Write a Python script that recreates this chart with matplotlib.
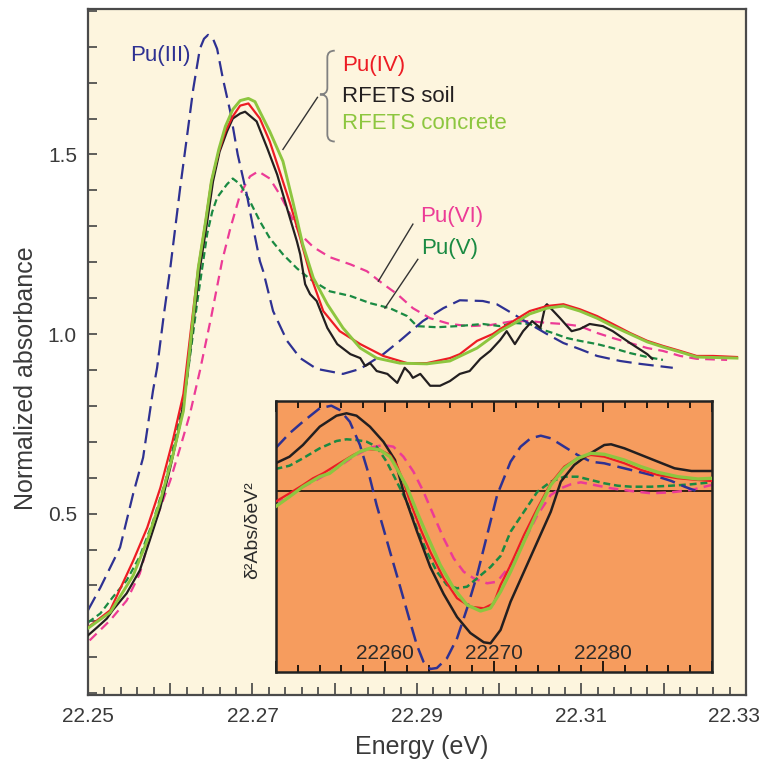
import numpy as np
import matplotlib
matplotlib.use("Agg")
import matplotlib.pyplot as plt
from matplotlib.ticker import MultipleLocator, FixedLocator
from matplotlib.path import Path
from matplotlib.patches import PathPatch
import matplotlib.transforms as mtransforms

plt.rcParams['font.family'] = ['Liberation Sans', 'DejaVu Sans']
plt.rcParams['lines.scale_dashes'] = False

# ---------------- main panel data (energy keV, normalized absorbance) -------------
pu3_E = [22.2500, 22.2515, 22.2539, 22.2555, 22.2567, 22.2579, 22.2584, 22.2592, 22.2600,
         22.2612, 22.2620, 22.2628, 22.2636, 22.2641, 22.2646, 22.2652, 22.2657, 22.2664,
         22.2673, 22.2682, 22.2693, 22.2701, 22.2709, 22.2713, 22.2725, 22.2742, 22.2758,
         22.2778, 22.2810, 22.2831, 22.2859, 22.2879, 22.2907, 22.2932, 22.2952, 22.2980,
         22.2997, 22.3017, 22.3037, 22.3058, 22.3078, 22.3098, 22.3119, 22.3147, 22.3171,
         22.3211]
pu3_A = [0.231, 0.294, 0.406, 0.556, 0.656, 0.842, 0.906, 1.050, 1.183,
         1.406, 1.544, 1.683, 1.794, 1.822, 1.833, 1.822, 1.794, 1.711,
         1.619, 1.500, 1.389, 1.294, 1.203, 1.175, 1.064, 0.981, 0.933,
         0.903, 0.889, 0.903, 0.944, 0.981, 1.036, 1.072, 1.094, 1.092,
         1.083, 1.056, 1.028, 1.000, 0.975, 0.958, 0.939, 0.925, 0.917,
         0.906]

soil_E = [22.2500, 22.2511, 22.2523, 22.2530, 22.2547, 22.2563, 22.2575, 22.2588, 22.2600,
          22.2612, 22.2620, 22.2628, 22.2636, 22.2645, 22.2652, 22.2660, 22.2669, 22.2676,
          22.2685, 22.2691, 22.2705, 22.2718, 22.2730, 22.2742, 22.2754, 22.2758, 22.2764,
          22.2770, 22.2778, 22.2791, 22.2803, 22.2819, 22.2831, 22.2837, 22.2843, 22.2851,
          22.2864, 22.2876, 22.2885, 22.2891, 22.2895, 22.2904, 22.2916, 22.2928, 22.2940,
          22.2952, 22.2964, 22.2977, 22.2989, 22.3001, 22.3009, 22.3019, 22.3029, 22.3040,
          22.3050, 22.3056, 22.3058, 22.3074, 22.3088, 22.3098, 22.3110, 22.3126, 22.3138,
          22.3159, 22.3180, 22.3186]
soil_A = [0.161, 0.183, 0.208, 0.231, 0.278, 0.342, 0.425, 0.517, 0.628,
          0.750, 0.869, 1.030, 1.183, 1.314, 1.425, 1.508, 1.564, 1.600,
          1.614, 1.619, 1.592, 1.517, 1.444, 1.350, 1.258, 1.222, 1.139,
          1.111, 1.092, 1.017, 0.972, 0.944, 0.933, 0.911, 0.919, 0.897,
          0.889, 0.864, 0.906, 0.892, 0.878, 0.889, 0.856, 0.856, 0.869,
          0.889, 0.897, 0.931, 0.953, 0.983, 1.008, 0.972, 1.008, 1.036,
          1.017, 1.078, 1.083, 1.044, 1.008, 1.014, 1.028, 1.022, 1.008,
          0.975, 0.944, 0.931]

pu4_E = [22.2500, 22.2527, 22.2555, 22.2572, 22.2588, 22.2603, 22.2616, 22.2625, 22.2634,
         22.2643, 22.2650, 22.2659, 22.2667, 22.2676, 22.2685, 22.2695, 22.2709, 22.2721,
         22.2733, 22.2746, 22.2758, 22.2770, 22.2786, 22.2806, 22.2831, 22.2859, 22.2888,
         22.2912, 22.2940, 22.2952, 22.2973, 22.2992, 22.3001, 22.3017, 22.3037, 22.3058,
         22.3078, 22.3098, 22.3119, 22.3138, 22.3159, 22.3180, 22.3199, 22.3220, 22.3240,
         22.3260, 22.3289]
pu4_A = [0.183, 0.231, 0.369, 0.461, 0.572, 0.703, 0.833, 1.010, 1.183,
         1.314, 1.425, 1.508, 1.564, 1.606, 1.636, 1.642, 1.600, 1.536,
         1.453, 1.361, 1.267, 1.167, 1.064, 1.008, 0.972, 0.939, 0.919,
         0.919, 0.933, 0.944, 0.981, 1.000, 1.014, 1.036, 1.064, 1.078,
         1.083, 1.069, 1.050, 1.028, 1.003, 0.981, 0.967, 0.953, 0.939,
         0.939, 0.936]

conc_E = [22.2500, 22.2527, 22.2555, 22.2572, 22.2588, 22.2603, 22.2616, 22.2625, 22.2634,
          22.2643, 22.2650, 22.2659, 22.2667, 22.2676, 22.2685, 22.2695, 22.2703, 22.2709,
          22.2721, 22.2737, 22.2749, 22.2761, 22.2774, 22.2791, 22.2810, 22.2831, 22.2851,
          22.2879, 22.2912, 22.2940, 22.2973, 22.3001, 22.3017, 22.3037, 22.3058, 22.3078,
          22.3098, 22.3119, 22.3138, 22.3159, 22.3180, 22.3199, 22.3220, 22.3240, 22.3289]
conc_A = [0.181, 0.225, 0.328, 0.425, 0.536, 0.661, 0.786, 0.985, 1.183,
          1.314, 1.425, 1.514, 1.578, 1.625, 1.650, 1.656, 1.647, 1.619,
          1.564, 1.481, 1.369, 1.250, 1.156, 1.083, 1.017, 0.961, 0.933,
          0.919, 0.917, 0.925, 0.961, 1.008, 1.028, 1.056, 1.072, 1.078,
          1.064, 1.044, 1.022, 1.000, 0.978, 0.964, 0.950, 0.936, 0.933]

pu6_E = [22.2502, 22.2527, 22.2547, 22.2563, 22.2575, 22.2588, 22.2600, 22.2612, 22.2624,
         22.2636, 22.2650, 22.2663, 22.2673, 22.2685, 22.2697, 22.2707, 22.2721, 22.2733,
         22.2746, 22.2758, 22.2774, 22.2794, 22.2819, 22.2839, 22.2859, 22.2876, 22.2895,
         22.2916, 22.2940, 22.2964, 22.2989, 22.3017, 22.3037, 22.3058, 22.3078, 22.3098,
         22.3119, 22.3138, 22.3159, 22.3180, 22.3199, 22.3220, 22.3240, 22.3277]
pu6_A = [0.147, 0.203, 0.258, 0.333, 0.433, 0.517, 0.592, 0.683, 0.778,
         0.897, 1.050, 1.203, 1.294, 1.389, 1.439, 1.453, 1.433, 1.389,
         1.333, 1.278, 1.242, 1.214, 1.194, 1.175, 1.139, 1.111, 1.072,
         1.044, 1.028, 1.022, 1.025, 1.036, 1.036, 1.031, 1.028, 1.022,
         1.003, 0.989, 0.975, 0.961, 0.953, 0.939, 0.931, 0.928]

pu5_E = [22.2500, 22.2515, 22.2530, 22.2547, 22.2563, 22.2579, 22.2594, 22.2608, 22.2620,
         22.2633, 22.2645, 22.2651, 22.2657, 22.2669, 22.2676, 22.2685, 22.2697, 22.2709,
         22.2721, 22.2737, 22.2754, 22.2770, 22.2794, 22.2819, 22.2843, 22.2867, 22.2888,
         22.2900, 22.2924, 22.2949, 22.2980, 22.3001, 22.3017, 22.3037, 22.3050, 22.3065,
         22.3082, 22.3098, 22.3119, 22.3138, 22.3159, 22.3180, 22.3199]
pu5_A = [0.197, 0.222, 0.267, 0.314, 0.381, 0.478, 0.589, 0.728, 0.869,
         1.092, 1.280, 1.340, 1.380, 1.417, 1.433, 1.417, 1.369, 1.314,
         1.267, 1.222, 1.183, 1.153, 1.119, 1.106, 1.086, 1.072, 1.050,
         1.022, 1.019, 1.022, 1.028, 1.022, 1.031, 1.028, 1.014, 1.003,
         0.989, 0.981, 0.972, 0.961, 0.947, 0.936, 0.928]

# ---------------- inset data (energy eV, second derivative, arb. units) -------------
i_soil_E = [22249.95, 22251.24, 22252.47, 22254.01, 22255.55, 22256.47, 22257.39, 22258.62,
            22259.85, 22260.92, 22261.80, 22262.92, 22264.15, 22265.38, 22266.61, 22267.83,
            22269.06, 22269.68, 22270.60, 22271.52, 22272.75, 22273.98, 22275.21, 22276.13,
            22277.36, 22278.59, 22280.12, 22280.74, 22281.96, 22283.50, 22285.04, 22286.57,
            22288.11, 22289.95]
i_soil_V = [0.277, 0.343, 0.460, 0.643, 0.753, 0.777, 0.753, 0.643,
            0.493, 0.310, -0.050, -0.400, -0.760, -1.030, -1.260, -1.420,
            -1.513, -1.523, -1.390, -1.107, -0.807, -0.507, -0.207, 0.093,
            0.260, 0.360, 0.460, 0.467, 0.427, 0.360, 0.293, 0.227,
            0.200, 0.200]

i_pu4_E = [22249.95, 22251.24, 22252.47, 22253.39, 22254.32, 22255.55, 22257.08, 22258.31,
           22259.54, 22260.46, 22261.08, 22261.69, 22262.30, 22263.23, 22264.15, 22265.38,
           22266.61, 22267.83, 22269.06, 22269.98, 22270.60, 22271.52, 22272.75, 22273.98,
           22275.21, 22276.44, 22277.67, 22278.89, 22280.12, 22281.96, 22283.50, 22285.04,
           22286.87, 22288.72, 22289.95]
i_pu4_V = [-0.107, -0.023, 0.060, 0.127, 0.177, 0.260, 0.360, 0.420,
           0.410, 0.360, 0.260, 0.093, -0.107, -0.373, -0.607, -0.873,
           -1.073, -1.157, -1.173, -1.123, -0.940, -0.740, -0.440, -0.173,
           0.077, 0.243, 0.327, 0.360, 0.343, 0.277, 0.210, 0.160,
           0.127, 0.110, 0.100]

i_conc_E = [22249.95, 22251.24, 22252.47, 22254.01, 22254.93, 22256.47, 22257.70, 22258.62,
            22259.54, 22260.46, 22261.08, 22262.00, 22262.92, 22263.84, 22265.07, 22266.30,
            22267.53, 22268.76, 22269.68, 22270.60, 22271.52, 22272.75, 22273.98, 22275.21,
            22276.44, 22277.67, 22278.89, 22280.12, 22281.96, 22283.50, 22285.04, 22286.87,
            22288.72, 22289.95]
i_conc_V = [-0.157, -0.057, 0.043, 0.143, 0.177, 0.310, 0.393, 0.427,
            0.410, 0.343, 0.227, 0.043, -0.207, -0.440, -0.740, -0.973,
            -1.140, -1.200, -1.170, -1.007, -0.807, -0.507, -0.207, 0.060,
            0.227, 0.327, 0.377, 0.367, 0.310, 0.243, 0.187, 0.143,
            0.120, 0.127]

i_pu3_E = [22249.95, 22251.24, 22252.47, 22254.01, 22255.08, 22255.85, 22256.77, 22257.70,
           22258.62, 22259.23, 22259.85, 22260.46, 22261.08, 22261.69, 22262.30, 22262.92,
           22263.53, 22264.15, 22264.76, 22265.68, 22266.61, 22267.53, 22268.45, 22269.37,
           22270.29, 22271.52, 22272.44, 22273.36, 22274.29, 22275.21, 22276.44, 22277.67,
           22278.89, 22280.12, 22281.35, 22282.58, 22283.81, 22285.04, 22286.27, 22287.49,
           22288.72]
i_pu3_V = [0.427, 0.577, 0.693, 0.827, 0.853, 0.810, 0.693, 0.460,
           0.127, -0.140, -0.373, -0.607, -0.840, -1.073, -1.307, -1.540,
           -1.707, -1.780, -1.770, -1.673, -1.473, -1.173, -0.840, -0.440,
           -0.040, 0.293, 0.443, 0.527, 0.553, 0.527, 0.443, 0.360,
           0.293, 0.277, 0.243, 0.210, 0.177, 0.143, 0.100, 0.043,
           -0.007]

i_pu6_E = [22249.95, 22251.24, 22252.47, 22253.70, 22255.55, 22257.08, 22258.62, 22259.85,
           22260.77, 22261.69, 22262.61, 22263.53, 22264.45, 22265.38, 22266.30, 22267.22,
           22268.14, 22269.37, 22270.29, 22271.52, 22272.75, 22273.98, 22275.21, 22276.13,
           22277.05, 22277.97, 22278.89, 22280.74, 22282.58, 22284.42, 22286.27, 22288.11,
           22289.95]
i_pu6_V = [-0.140, -0.040, 0.043, 0.110, 0.227, 0.343, 0.433, 0.460,
           0.443, 0.343, 0.193, -0.007, -0.240, -0.473, -0.673, -0.807,
           -0.873, -0.923, -0.907, -0.740, -0.507, -0.240, -0.040, 0.027,
           0.067, 0.087, 0.067, 0.027, 0.000, -0.023, -0.013, 0.010,
           0.060]

i_pu5_E = [22249.95, 22251.24, 22252.47, 22254.01, 22255.55, 22256.47, 22257.39, 22258.31,
           22259.23, 22260.15, 22261.08, 22262.00, 22262.92, 22263.84, 22264.76, 22265.68,
           22266.61, 22267.53, 22268.45, 22269.68, 22270.60, 22271.52, 22272.75, 22273.98,
           22275.21, 22276.44, 22277.67, 22278.89, 22280.12, 22281.35, 22282.58, 22284.42,
           22286.27, 22288.11, 22289.95]
i_pu5_V = [0.220, 0.253, 0.327, 0.427, 0.500, 0.517, 0.510, 0.493,
           0.443, 0.293, 0.093, -0.107, -0.373, -0.607, -0.807, -0.940,
           -0.973, -0.957, -0.873, -0.760, -0.650, -0.407, -0.207, -0.007,
           0.093, 0.143, 0.143, 0.110, 0.077, 0.053, 0.043, 0.043,
           0.053, 0.067, 0.087]

# axis ticks / labels
x_major = [22.25, 22.26, 22.27, 22.28, 22.29, 22.30, 22.31, 22.32, 22.33]
x_major_labels = ['22.25', '', '22.27', '', '22.29', '', '22.31', '', '22.33']
y_major = [0.5, 1.0, 1.5]
y_major_labels = ['0.5', '1.0', '1.5']
inset_label_vals = [22260, 22270, 22280]

# colours
C_BLUE = '#2e3192'
C_RED = '#ed1c24'
C_BLACK = '#231f20'
C_LGREEN = '#8dc63f'
C_DGREEN = '#1a8a42'
C_PINK = '#ec3b96'
C_TXT = '#3a3a3a'
BG_MAIN = '#fdf5de'
BG_INSET = '#f69c5e'

fig = plt.figure(figsize=(7.63, 7.61), dpi=100)
fig.patch.set_facecolor('white')

ax = fig.add_axes([88/763, 66/761, 658/763, 686/761])
ax.set_facecolor(BG_MAIN)

lw = 1.6
ax.plot(pu6_E, pu6_A, color=C_PINK, lw=lw, dashes=(7, 4.5), zorder=2)
ax.plot(pu5_E, pu5_A, color=C_DGREEN, lw=lw, dashes=(5, 2.8), zorder=2)
ax.plot(pu3_E, pu3_A, color=C_BLUE, lw=lw, dashes=(11, 5), zorder=2)
ax.plot(soil_E, soil_A, color=C_BLACK, lw=1.6, zorder=3)
ax.plot(pu4_E, pu4_A, color=C_RED, lw=1.6, zorder=3)
ax.plot(conc_E, conc_A, color=C_LGREEN, lw=2.1, zorder=4)

ax.set_xlim(22.25, 22.33)
ax.set_ylim(-0.005, 1.905)
ax.xaxis.set_major_locator(FixedLocator(x_major))
ax.set_xticklabels(x_major_labels)
ax.xaxis.set_minor_locator(MultipleLocator(0.002))
ax.yaxis.set_major_locator(FixedLocator(y_major))
ax.set_yticklabels(y_major_labels)
ax.yaxis.set_minor_locator(MultipleLocator(0.1))

ax.tick_params(axis='x', which='major', direction='in', length=9, width=1.2,
               color='#444444', labelsize=15, labelcolor=C_TXT, pad=9)
ax.tick_params(axis='x', which='minor', direction='in', length=5.5, width=1.2, color='#444444')
ax.tick_params(axis='y', which='both', direction='in', length=6.5, width=1.2,
               color='#444444', labelsize=15, labelcolor=C_TXT, pad=8)
for s in ax.spines.values():
    s.set_color('#4a4a4a')
    s.set_linewidth(1.6)

# the last x label sits at the image edge; nudge it so it stays visible
last_lbl = ax.get_xticklabels()[-1]
last_lbl.set_transform(last_lbl.get_transform() +
                       mtransforms.ScaledTranslation(-12/100, 0, fig.dpi_scale_trans))

fig.text(26/763, 1 - 378/761, 'Normalized absorbance', rotation=90,
         ha='center', va='center', fontsize=18, color=C_TXT)
fig.text(422/763, 1 - 747/761, 'Energy (eV)', ha='center', va='center',
         fontsize=18, color=C_TXT)

# annotations
ax.text(22.2588, 1.775, 'Pu(III)', color=C_BLUE, fontsize=16, ha='center', va='center')
ax.text(22.2809, 1.747, 'Pu(IV)', color=C_RED, fontsize=16, ha='left', va='center')
ax.text(22.2809, 1.661, 'RFETS soil', color=C_BLACK, fontsize=16, ha='left', va='center')
ax.text(22.2809, 1.586, 'RFETS concrete', color=C_LGREEN, fontsize=16, ha='left', va='center')
ax.text(22.2904, 1.328, 'Pu(VI)', color=C_PINK, fontsize=16, ha='left', va='center')
ax.text(22.2905, 1.239, 'Pu(V)', color=C_DGREEN, fontsize=16, ha='left', va='center')

# brace
verts = [(22.2800, 1.789), (22.2791, 1.789), (22.2791, 1.770),
         (22.2791, 1.685),
         (22.2791, 1.667), (22.2782, 1.667),
         (22.2791, 1.667), (22.2791, 1.649),
         (22.2791, 1.556),
         (22.2791, 1.536), (22.2800, 1.536)]
codes = [Path.MOVETO, Path.CURVE3, Path.CURVE3, Path.LINETO, Path.CURVE3, Path.CURVE3,
         Path.CURVE3, Path.CURVE3, Path.LINETO, Path.CURVE3, Path.CURVE3]
ax.add_patch(PathPatch(Path(verts, codes), fill=False, edgecolor='#808080', lw=1.3, zorder=5))
ax.plot([22.2779, 22.2737], [1.659, 1.514], color='#333333', lw=1.0, zorder=5)
ax.plot([22.2895, 22.2853], [1.306, 1.147], color='#333333', lw=1.0, zorder=5)
ax.plot([22.2901, 22.2861], [1.208, 1.072], color='#333333', lw=1.0, zorder=5)

# ---------------- inset ----------------
axi = fig.add_axes([276/763, 89/761, 436/763, 271/761])
axi.set_facecolor(BG_INSET)
axi.axhline(0, color='black', lw=1.1, zorder=1)
ilw = 1.8
axi.plot(i_pu6_E, i_pu6_V, color=C_PINK, lw=ilw, dashes=(7, 4.5), zorder=2)
axi.plot(i_pu5_E, i_pu5_V, color=C_DGREEN, lw=ilw, dashes=(5, 2.8), zorder=2)
axi.plot(i_pu3_E, i_pu3_V, color=C_BLUE, lw=ilw, dashes=(11, 5), zorder=2)
axi.plot(i_soil_E, i_soil_V, color=C_BLACK, lw=1.8, zorder=3)
axi.plot(i_pu4_E, i_pu4_V, color=C_RED, lw=1.6, zorder=3)
axi.plot(i_conc_E, i_conc_V, color=C_LGREEN, lw=2.4, zorder=4)
axi.set_xlim(22250, 22290)
axi.set_ylim(-1.81, 0.90)
axi.xaxis.set_major_locator(MultipleLocator(10))
axi.xaxis.set_minor_locator(MultipleLocator(2))
axi.set_yticks([])
axi.tick_params(axis='x', which='major', direction='in', top=True, bottom=True,
                length=8, width=1.2, labelbottom=False)
axi.tick_params(axis='x', which='minor', direction='in', top=True, bottom=True,
                length=5, width=1.2)
for s in axi.spines.values():
    s.set_color('#222222')
    s.set_linewidth(1.8)
trans = mtransforms.blended_transform_factory(axi.transData, axi.transAxes)
for v in inset_label_vals:
    axi.text(v, 0.07, str(v), transform=trans, ha='center', va='center',
             fontsize=15, color='#2a2a2a', zorder=6)

fig.text(253/763, 1 - 530/761, 'δ²Abs/δeV²', rotation=90, ha='center', va='center',
         fontsize=14, color='#2a2a2a')

fig.savefig('out.png', dpi=100, facecolor='white')
